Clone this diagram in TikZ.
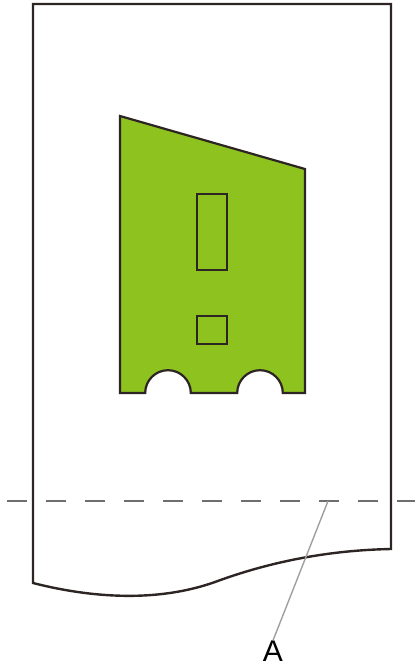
\documentclass[tikz,border=0pt]{standalone}
\usepackage{fontspec}
\setmainfont{Liberation Sans}
\definecolor{leafgreen}{RGB}{141,194,31}
\definecolor{inkline}{RGB}{45,36,36}
\definecolor{cutgray}{RGB}{110,110,110}
\begin{document}
\begin{tikzpicture}[x=1pt,y=-1pt,
  paperline/.style={draw=inkline,line width=2.4pt,line join=miter},
  shapeline/.style={draw=inkline,line width=2.2pt,fill=leafgreen},
  holeline/.style={draw=inkline,line width=2.2pt},
  cutline/.style={draw=cutgray,line width=2.2pt,dash pattern=on 20pt off 19pt},
  leader/.style={draw=gray!75,line width=1.4pt},
  labeltext/.style={font=\fontsize{30}{30}\selectfont,inner sep=0pt,anchor=center}]
\useasboundingbox (0,0) rectangle (415,670);
% paper sheet
\draw[paperline] (33,583) -- (33,4) -- (391,4) -- (391,549)
  .. controls (340,550) and (280,558) .. (215,582)
  .. controls (150,605) and (80,595) .. (33,583) -- cycle;
% green shape
\draw[shapeline] (120,116) -- (305,169) -- (305,393) -- (282.8,393)
  arc[start angle=0,end angle=-180,radius=22.8] -- (190.8,393)
  arc[start angle=0,end angle=-180,radius=22.8] -- (120,393) -- cycle;
\draw[holeline] (197,194) rectangle (227,270);
\draw[holeline] (197,316) rectangle (227,344);
% cut line
\coordinate (cutL) at (7,501);
\coordinate (cutR) at (415,501);
\draw[cutline] (cutL) -- (cutR);
% label
\coordinate (ptA) at (328,501);
\node[labeltext] (labA) at (273,651) {A};
\draw[leader] (ptA) -- (labA.north);
\end{tikzpicture}
\end{document}
